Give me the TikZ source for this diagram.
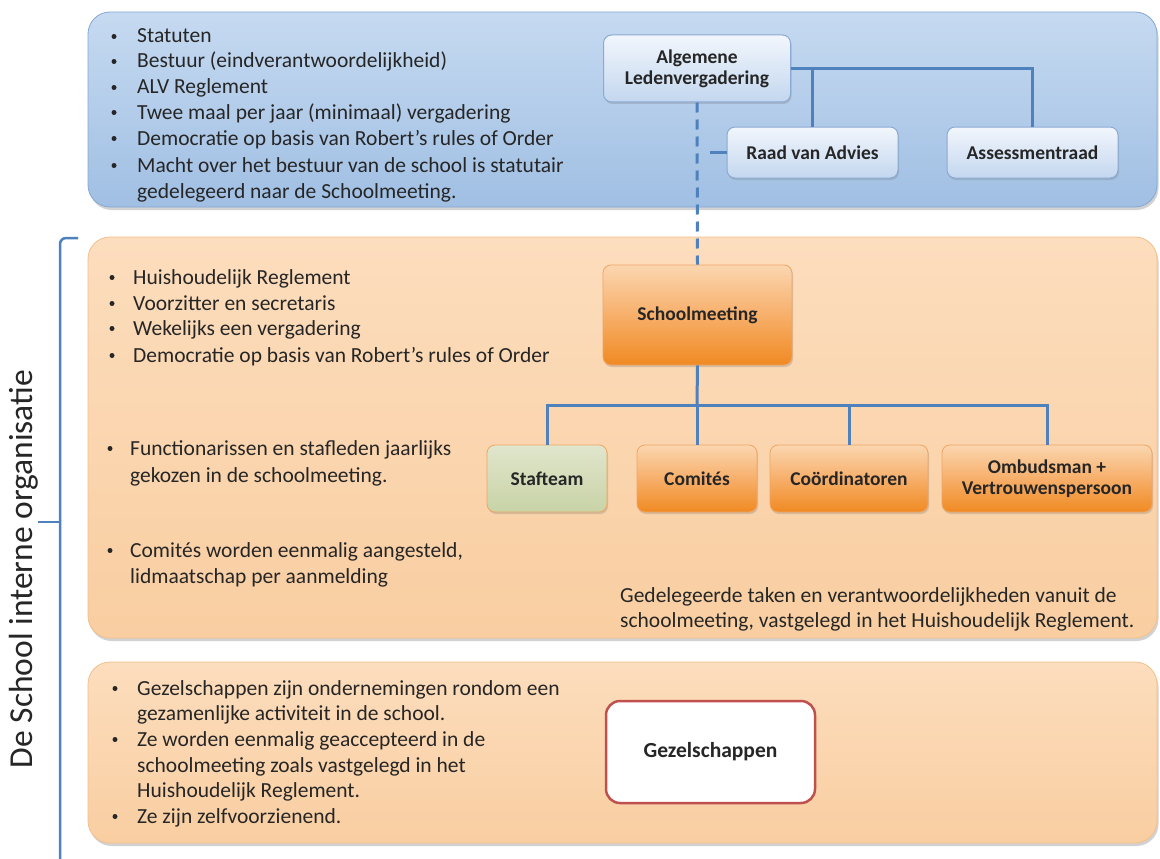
\documentclass[tikz,border=0pt]{standalone}
\usepackage{fontspec}
\setmainfont{Carlito}
\usetikzlibrary{shadows}
\definecolor{conn}{HTML}{4F81BD}
\definecolor{bpTop}{HTML}{C6DAF1}
\definecolor{bpBot}{HTML}{A0BFE3}
\definecolor{bpBorder}{HTML}{86A8D2}
\definecolor{bnTop}{HTML}{F2F6FC}
\definecolor{bnBot}{HTML}{C3D7EF}
\definecolor{bnBorder}{HTML}{8AAAD4}
\definecolor{opTop}{HTML}{FCDDBD}
\definecolor{opBot}{HTML}{F9CEA1}
\definecolor{opBorder}{HTML}{F3C08C}
\definecolor{onTop}{HTML}{FBD6B0}
\definecolor{onMid}{HTML}{F7AF6A}
\definecolor{onBot}{HTML}{F08A22}
\definecolor{onBorder}{HTML}{EFA565}
\definecolor{gnTop}{HTML}{E0E6CC}
\definecolor{gnBot}{HTML}{C8D3A6}
\definecolor{gzBorder}{HTML}{C0504D}
\definecolor{txt}{HTML}{262626}
\tikzset{
  panelshadow/.style={drop shadow={opacity=0.35,shadow xshift=1.5pt,shadow yshift=-3pt}},
  bluepanel/.style={rectangle,rounded corners=22pt,draw=bpBorder,line width=0.8pt,
    top color=bpTop,bottom color=bpBot,panelshadow,inner sep=0pt},
  orangepanel/.style={rectangle,rounded corners=22pt,draw=opBorder,line width=0.8pt,
    top color=opTop,bottom color=opBot,panelshadow,inner sep=0pt},
  nodeshadow/.style={drop shadow={opacity=0.3,shadow xshift=1pt,shadow yshift=-2pt}},
  boxtext/.style={font=\bfseries\fontsize{19.5}{21}\selectfont,text=txt,align=center,inner sep=0pt},
  bluebox/.style={rectangle,rounded corners=8pt,draw=bnBorder,line width=1pt,
    top color=bnTop,bottom color=bnBot,nodeshadow,boxtext},
  orangebox/.style={rectangle,rounded corners=8pt,draw=onBorder,line width=0.8pt,
    shading=axis,top color=onTop,bottom color=onBot,middle color=onMid,nodeshadow,boxtext},
  greenbox/.style={rectangle,rounded corners=8pt,draw=onBorder,line width=0.8pt,
    top color=gnTop,bottom color=gnBot,nodeshadow,boxtext},
  whitebox/.style={rectangle,rounded corners=14pt,draw=gzBorder,line width=2.5pt,
    fill=white,boxtext,font=\bfseries\fontsize{21.5}{24}\selectfont},
  connector/.style={draw=conn,line width=3pt},
  dashconn/.style={draw=conn,line width=3pt,dash pattern=on 10pt off 7pt},
  body/.style={anchor=base west,inner sep=0pt,text=txt,font=\fontsize{21.5}{25}\selectfont},
  dot/.style={circle,fill=txt,inner sep=0pt,minimum size=5pt},
}
\begin{document}
\begin{tikzpicture}[x=1pt,y=-1pt]
\useasboundingbox (0,0) rectangle (1160,859);
\fill[white] (0,0) rectangle (1160,859);

% panels
\node[bluepanel,minimum width=1069pt,minimum height=195pt] (pblue) at (622.5,109.5) {};
\node[orangepanel,minimum width=1069pt,minimum height=401pt] (porange) at (622.5,437.5) {};
\node[orangepanel,minimum width=1069pt,minimum height=181pt] (pgez) at (622.5,752.5) {};

% brace and side label
\draw[conn,line width=2.5pt] (78,238) -- (66,238) to[out=180,in=90] (60,244) -- (60,862);
\draw[conn,line width=2.5pt] (60,522) -- (38,522);
\node[rotate=90,inner sep=0pt,text=txt,font=\fontsize{33.5}{38}\selectfont] (side) at (24,569) {De School interne organisatie};

% blue panel text
\foreach \y/\t in {43/Statuten,68/Bestuur (eindverantwoordelijkheid),94/ALV Reglement,
  119/Twee maal per jaar (minimaal) vergadering,145/Democratie op basis van Robert’s rules of Order,
  172/Macht over het bestuur van de school is statutair}{
  \node[dot] at (114,\y-6.5) {};
  \node[body] at (137,\y) {\t};
}
\node[body] (b7) at (137,198) {gedelegeerd naar de Schoolmeeting.};

% orange panel text
\foreach \y/\t in {284/Huishoudelijk Reglement,310/Voorzitter en secretaris,335/Wekelijks een vergadering,
  362/Democratie op basis van Robert’s rules of Order}{
  \node[dot] at (112,\y-6.5) {};
  \node[body] at (133,\y) {\t};
}
\node[dot] at (110,448.5) {};
\node[body] (o5) at (130,455) {Functionarissen en stafleden jaarlijks};
\node[body] (o6) at (130,482) {gekozen in de schoolmeeting.};
\node[dot] at (110,550.5) {};
\node[body] (o7) at (130,557) {Comités worden eenmalig aangesteld,};
\node[body] (o8) at (130,583) {lidmaatschap per aanmelding};
\node[body] (g1) at (620,602) {Gedelegeerde taken en verantwoordelijkheden vanuit de};
\node[body] (g2) at (620,627) {schoolmeeting, vastgelegd in het Huishoudelijk Reglement.};

% gezelschappen panel text
\node[dot] at (115,688.5) {};
\node[body] (z1) at (137,695) {Gezelschappen zijn ondernemingen rondom een};
\node[body] (z2) at (137,720) {gezamenlijke activiteit in de school.};
\node[dot] at (115,739.5) {};
\node[body] (z3) at (137,746) {Ze worden eenmalig geaccepteerd in de};
\node[body] (z4) at (137,772) {schoolmeeting zoals vastgelegd in het};
\node[body] (z5) at (137,797) {Huishoudelijk Reglement.};
\node[dot] at (115,816.5) {};
\node[body] (z6) at (137,823) {Ze zijn zelfvoorzienend.};

% boxes
\node[bluebox,minimum width=187pt,minimum height=67pt] (alv) at (697,68.5) {Algemene\\Ledenvergadering};
\node[bluebox,minimum width=171pt,minimum height=51pt] (raad) at (812.5,152.5) {Raad van Advies};
\node[bluebox,minimum width=171pt,minimum height=51pt] (assess) at (1032.5,152.5) {Assessmentraad};
\node[orangebox,minimum width=189pt,minimum height=100pt] (school) at (697.5,315) {Schoolmeeting};
\node[greenbox,minimum width=120pt,minimum height=67pt] (staf) at (547,478.5) {Stafteam};
\node[orangebox,minimum width=120pt,minimum height=67pt] (com) at (697,478.5) {Comités};
\node[orangebox,minimum width=158pt,minimum height=67pt] (coord) at (849,478.5) {Coördinatoren};
\node[orangebox,minimum width=210pt,minimum height=67pt] (omb) at (1047,478.5) {Ombudsman +\\Vertrouwenspersoon};
\node[whitebox,minimum width=209pt,minimum height=102pt] (gez) at (710.5,752) {Gezelschappen};

% connectors
\coordinate (rs) at (710,152.5);
\coordinate (bus) at (697,405);
\draw[connector] (alv.east) -| (assess.north);
\draw[connector] (raad.north) -- (raad.north |- alv.east);
\draw[dashconn] (alv.south) -- (school.north);
\draw[connector] (raad.west) -- (rs);
\draw[connector] (school.south) -- (bus);
\draw[connector] (staf.north) |- (bus) -| (omb.north);
\draw[connector] (com.north) -- (com.north |- bus);
\draw[connector] (coord.north) -- (coord.north |- bus);
\end{tikzpicture}
\end{document}
